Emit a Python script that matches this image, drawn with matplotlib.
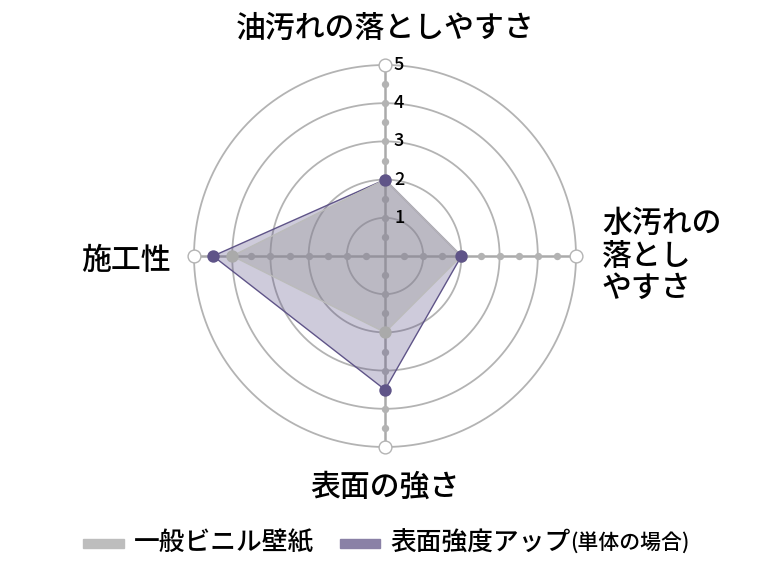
import numpy as np
import matplotlib
matplotlib.use("Agg")
import matplotlib.pyplot as plt
import matplotlib.transforms as mtransforms
from matplotlib.patches import Rectangle

plt.rcParams['font.family'] = ['Noto Sans CJK JP', 'DejaVu Sans']
plt.rcParams['font.weight'] = 'medium'

# データ
categories = ["油汚れの落としやすさ", "水汚れの\n落とし\nやすさ", "表面の強さ", "施工性"]
series_names = ["一般ビニル壁紙", "表面強度アップ", "(単体の場合)"]
vinyl = [2, 2, 2, 4]
strong = [2, 2, 3.5, 4.5]
ticks = [1, 2, 3, 4, 5]

gray = "#b3b3b3"
purple = "#5f5488"

W, H = 772, 565
fig = plt.figure(figsize=(W / 100, H / 100), dpi=100)

# 中心と半径 (px)
cx, cy, R = 385, 256, 191
ax = fig.add_axes([(cx - R) / W, (H - cy - R) / H, 2 * R / W, 2 * R / H], projection="polar")
ax.set_theta_offset(np.pi / 2)
ax.set_theta_direction(-1)
ax.set_ylim(0, 5)
ax.axis("off")

angles = np.linspace(0, 2 * np.pi, len(categories), endpoint=False)

# 同心円
t = np.linspace(0, 2 * np.pi, 361)
for r in ticks:
    ax.plot(t, [r] * len(t), color="#b3b3b3", lw=1.3, zorder=1, clip_on=False)

# 軸線と目盛り点
steps = np.arange(0.5, 5, 0.5)
for a in angles:
    ax.plot([a, a], [0, 5], color="#aaaaaa", lw=1.8, zorder=2, clip_on=False)
    ax.scatter([a] * len(steps), steps, s=28, color=gray, zorder=3, linewidths=0)
    ax.scatter([a], [5], s=85, facecolor="white", edgecolor=gray, linewidths=1.0,
               zorder=6, clip_on=False)

# 目盛りラベル (軸の少し右)
offset = mtransforms.ScaledTranslation(9 / 100, 0, fig.dpi_scale_trans)
for r in ticks:
    ax.text(0, r, str(r), fontsize=13, ha="left", va="center",
            transform=ax.transData + offset, zorder=7, clip_on=False)

# データ描画
ang_c = np.concatenate([angles, angles[:1]])
s1 = np.concatenate([strong, strong[:1]])
s0 = np.concatenate([vinyl, vinyl[:1]])
ax.fill(ang_c, s1, color=purple, alpha=0.3, zorder=4, linewidth=0)
ax.plot(ang_c, s1, color=purple, lw=1, zorder=4)
ax.fill(ang_c, s0, color="#999999", alpha=0.35, zorder=4, linewidth=0)
ax.plot(ang_c, s0, color="#bbbbbb", lw=1, zorder=4)
ax.scatter(angles, vinyl, s=80, color="#aaaaaa", zorder=5, linewidths=0)
ax.scatter(angles, strong, s=80, color=purple, zorder=5, linewidths=0)

# カテゴリラベル
fs = 21.5
fig.text(385 / W, 1 - 28 / H, categories[0], fontsize=fs, ha="center", va="center")
fig.text(602 / W, 1 - 256 / H, categories[1], fontsize=fs, ha="left", va="center", linespacing=1.08)
fig.text(385 / W, 1 - 487 / H, categories[2], fontsize=fs, ha="center", va="center")
fig.text(171 / W, 1 - 260 / H, categories[3], fontsize=fs, ha="right", va="center")

# 凡例 (手描き)
ly = 1 - 543 / H
fig.patches.append(Rectangle((83 / W, ly - 4.5 / H), 41 / W, 9 / H, color="#bdbdbd",
                             transform=fig.transFigure, figure=fig))
fig.patches.append(Rectangle((340 / W, ly - 4.5 / H), 40 / W, 9 / H, color="#8a81a6",
                             transform=fig.transFigure, figure=fig))
fig.text(134 / W, ly, series_names[0], fontsize=18.5, ha="left", va="center")
t2 = fig.text(390 / W, ly, series_names[1], fontsize=18.5, ha="left", va="center")
fig.canvas.draw()
bb = t2.get_window_extent()
fig.text(bb.x1 / W, ly, series_names[2], fontsize=15, ha="left", va="center")

fig.savefig("out.png", dpi=100)
